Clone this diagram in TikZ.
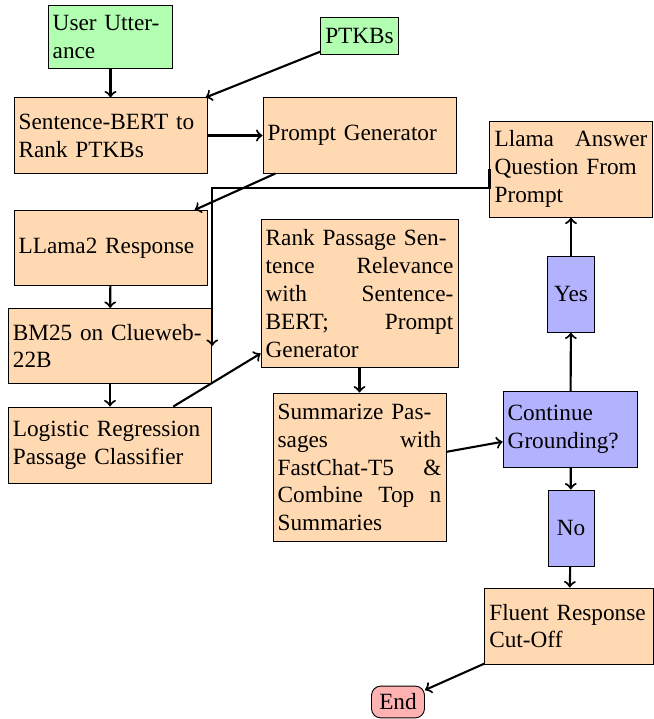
\documentclass[tikz,border=0pt]{standalone}
\usepackage{fontspec}
\setmainfont{Liberation Serif}
\tikzset{
    startstop/.style={rectangle, rounded corners, draw=black, fill=red!30},
    io/.style={rectangle, draw=black, fill=green!30, align=left, inner xsep=2pt},
    process/.style={rectangle, draw=black, fill=orange!30, align=left, inner xsep=2pt},
    decision/.style={rectangle, draw=black, fill=blue!30, align=left, inner xsep=2pt},
    arrow/.style={line width=0.9pt,->}
}
\begin{document}
\begin{tikzpicture}[x=0.43pt,y=-0.43pt]
                \useasboundingbox (0,0) rectangle (654,719);

                \node[io, text width=49.7pt, minimum height=26.7pt] (user) at (110.5,37) {User Utter-\\ance};
                \node[io, minimum height=16.3pt] (ptkb) at (359.5,36) {PTKBs};
                \node[process, text width=79pt, minimum height=32.3pt] (sbert) at (110.5,135.5) {Sentence-BERT to\\Rank PTKBs};
                \node[process, text width=79pt, minimum height=32.3pt] (prompt) at (359.5,135.5) {Prompt Generator};
                \node[process, text width=65.7pt, minimum height=41.3pt] (ans) at (571,169) {Llama\hfill Answer\\Question From\\Prompt};
                \node[process, text width=79pt, minimum height=32.3pt] (llama2) at (110.5,248) {LLama2 Response};
                \node[process, text width=83.5pt, minimum height=32.3pt] (bm25) at (110,346) {BM25 on Clueweb-\\22B};
                \node[process, text width=83.5pt, minimum height=32.7pt] (logit) at (110,445) {Logistic Regression\\Passage Classifier};
                \node[process, text width=80.7pt, minimum height=64pt] (rank) at (359.5,293.5) {Rank Passage Sen-\\tence\hfill Relevance\\with\hfill Sentence-\\BERT;\hfill Prompt\\Generator};
                \node[process, text width=70.4pt, minimum height=64pt] (summ) at (359.5,467.5) {Summarize Pas-\\sages\hfill with\\FastChat-T5\hfill \&\\Combine\hfill Top\hfill n\\Summaries};
                \node[decision, minimum width=20.6pt, minimum height=32.7pt] (yes) at (571,294) {Yes};
                \node[decision, text width=54pt, minimum height=32.3pt] (cont) at (570.5,429.5) {Continue\\Grounding?};
                \node[decision, minimum width=19.8pt, minimum height=32.7pt] (no) at (571,528) {No};
                \node[process, text width=68.5pt, minimum height=32.7pt] (fluent) at (569,626) {Fluent Response\\Cut-Off};
                \node[startstop] (end) at (398,702) {End};

                \draw[arrow] (user) -- (sbert);
                \draw[arrow] (ptkb) -- (sbert);
                \draw[arrow] (sbert) -- (prompt);
                \draw[arrow] (prompt) -- (llama2);
                \draw[arrow] (ans.west) -- ++(0,19) -| (bm25.east);
                \draw[arrow] (llama2) -- (bm25);
                \draw[arrow] (bm25) -- (logit);
                \draw[arrow] (logit) -- (rank);
                \draw[arrow] (rank) -- (summ);
                \draw[arrow] (summ) -- (cont);
                \draw[arrow] (cont) -- (yes);
                \draw[arrow] (yes) -- (ans);
                \draw[arrow] (cont) -- (no);
                \draw[arrow] (no) -- (fluent);
                \draw[arrow] (fluent) -- (end);

            \end{tikzpicture}
\end{document}
